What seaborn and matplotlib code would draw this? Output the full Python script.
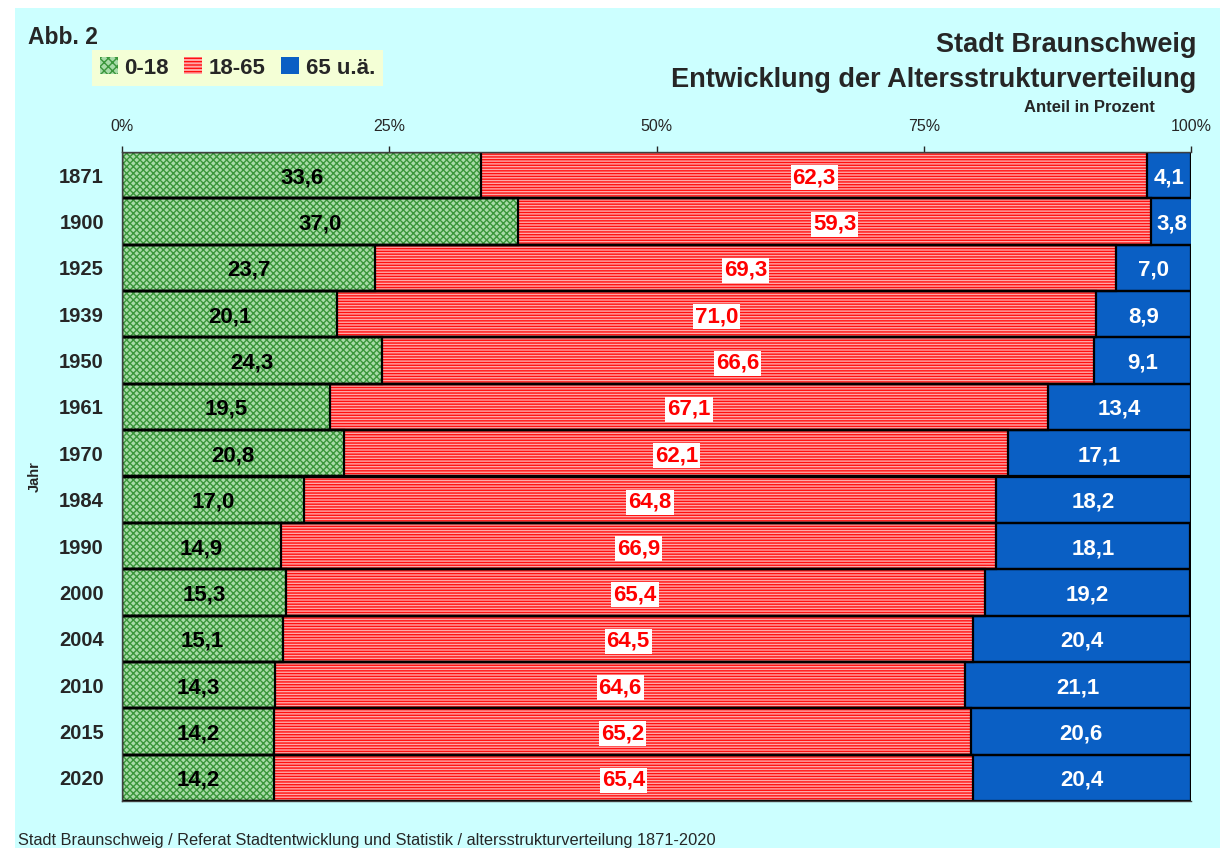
import numpy as np
import pandas as pd
import matplotlib
matplotlib.use('Agg')
import matplotlib.pyplot as plt
from matplotlib.patches import Rectangle, Patch
import seaborn as sns

# --- data (Anteil in Prozent) ---
years = ['1871', '1900', '1925', '1939', '1950', '1961', '1970', '1984',
         '1990', '2000', '2004', '2010', '2015', '2020']
share_0_18 = [33.6, 37.0, 23.7, 20.1, 24.3, 19.5, 20.8, 17.0, 14.9, 15.3, 15.1, 14.3, 14.2, 14.2]
share_18_65 = [62.3, 59.3, 69.3, 71.0, 66.6, 67.1, 62.1, 64.8, 66.9, 65.4, 64.5, 64.6, 65.2, 65.4]
share_65 = [4.1, 3.8, 7.0, 8.9, 9.1, 13.4, 17.1, 18.2, 18.1, 19.2, 20.4, 21.1, 20.6, 20.4]
series_names = ['0-18', '18-65', '65 u.ä.']
x_ticks = [0, 25, 50, 75, 100]

df = pd.DataFrame({'Jahr': years, 'a': share_0_18, 'b': share_18_65, 'c': share_65})
df['cum_a'] = df['a']
df['cum_b'] = df['a'] + df['b']
df['cum_c'] = df['cum_b'] + df['c']

sns.set_style('white')
plt.rcParams['font.family'] = ['Liberation Sans', 'DejaVu Sans']
plt.rcParams['hatch.linewidth'] = 1.0

bg = '#CCFFFF'
green_face, green_hatch = '#A8DBA8', '#3A963A'
red_face, red_hatch = '#FFA8A8', '#FF1010'
blue = '#0A5FC4'

fig = plt.figure(figsize=(12.29, 8.48), dpi=100)
fig.patch.set_facecolor('white')
W, H = 1229, 848
fig.patches.append(Rectangle((15 / W, 0), (1220 - 15) / W, 1 - 8 / H,
                             transform=fig.transFigure, facecolor=bg,
                             edgecolor='none', zorder=-10))

ax = fig.add_axes([122 / W, 1 - 801 / H, (1191 - 122) / W, (801 - 152) / H])
ax.set_facecolor('none')

# stacked layers: total first, then overlays
sns.barplot(data=df, x='cum_c', y='Jahr', orient='h', width=1.0, color=blue,
            edgecolor=blue, linewidth=0, saturation=1, ax=ax)
sns.barplot(data=df, x='cum_b', y='Jahr', orient='h', width=1.0, color=red_face,
            edgecolor=red_hatch, hatch='------', linewidth=0, saturation=1, ax=ax)
sns.barplot(data=df, x='cum_a', y='Jahr', orient='h', width=1.0, color=green_face,
            edgecolor=green_hatch, hatch='xxxxx', linewidth=0, saturation=1, ax=ax)
# black outlines
for col in ['cum_c', 'cum_b', 'cum_a']:
    sns.barplot(data=df, x=col, y='Jahr', orient='h', width=1.0, fill=False,
                color='black', linewidth=1.6, ax=ax)

# value labels
for i in range(len(years)):
    a, b, c = share_0_18[i], share_18_65[i], share_65[i]
    ax.text(a / 2, i, f'{a:.1f}'.replace('.', ','), ha='center', va='center_baseline',
            fontsize=16, fontweight='bold', color='black')
    ax.text(a + b / 2, i, f'{b:.1f}'.replace('.', ','), ha='center', va='center_baseline',
            fontsize=16, fontweight='bold', color='#FF0000',
            bbox=dict(facecolor='white', edgecolor='none', pad=1.5))
    ax.text(a + b + c / 2, i, f'{c:.1f}'.replace('.', ','), ha='center', va='center_baseline',
            fontsize=16, fontweight='bold', color='white')

# axes styling
ax.set_xlim(0, 100)
ax.set_xticks(x_ticks)
ax.set_xticklabels([f'{t}%' for t in x_ticks], fontsize=11.5)
ax.xaxis.tick_top()
ax.tick_params(axis='x', direction='out', length=4, width=1, pad=9, top=True, bottom=False)
ax.set_xlabel('')
ax.set_yticks(np.arange(-0.5, len(years), 1), minor=True)
ax.tick_params(axis='y', which='minor', length=6, width=1, direction='out')
ax.set_yticks(range(len(years)))
ax.set_yticklabels(years, fontsize=14.5, fontweight='bold')
ax.tick_params(axis='y', which='major', length=0, pad=13)
ax.set_ylabel('Jahr', fontsize=10.5, fontweight='bold')
ax.yaxis.set_label_coords(-80 / (1191 - 122), 0.5)
for s in ['top', 'bottom', 'left']:
    ax.spines[s].set_color('#404040')
    ax.spines[s].set_linewidth(1)
ax.spines['right'].set_visible(False)

# texts around the plot
fig.text(28 / W, 1 - 38 / H, 'Abb. 2', fontsize=16.5, fontweight='bold', va='center', ha='left')
fig.text(1196 / W, 1 - 45 / H, 'Stadt Braunschweig', fontsize=19.5, fontweight='bold',
         va='center', ha='right')
fig.text(1196 / W, 1 - 80 / H, 'Entwicklung der Altersstrukturverteilung', fontsize=19.5,
         fontweight='bold', va='center', ha='right')
fig.text(1155 / W, 1 - 107 / H, 'Anteil in Prozent', fontsize=12, fontweight='bold',
         va='center', ha='right')
fig.text(18 / W, 1 - 840 / H, 'Stadt Braunschweig / Referat Stadtentwicklung und Statistik / '
         'altersstrukturverteilung 1871-2020', fontsize=11.8, va='center', ha='left',
         family=['Liberation Sans Narrow', 'Liberation Sans'])

# legend
handles = [Patch(facecolor=green_face, edgecolor=green_hatch, hatch='xxxx', linewidth=0),
           Patch(facecolor=red_face, edgecolor=red_hatch, hatch='-----', linewidth=0),
           Patch(facecolor=blue, edgecolor=blue, linewidth=0)]
leg = fig.legend(handles, series_names, loc='center left', bbox_to_anchor=(92 / W, 1 - 68 / H),
                 ncol=3, frameon=True, fancybox=False, handlelength=0.8, handleheight=0.8,
                 handletextpad=0.3, columnspacing=0.7, borderpad=0.35, borderaxespad=0,
                 prop={'size': 16, 'weight': 'bold'})
leg.get_frame().set_facecolor('#FFFFCC')
leg.get_frame().set_edgecolor('none')

fig.savefig('out.png', dpi=100, facecolor=fig.get_facecolor())
